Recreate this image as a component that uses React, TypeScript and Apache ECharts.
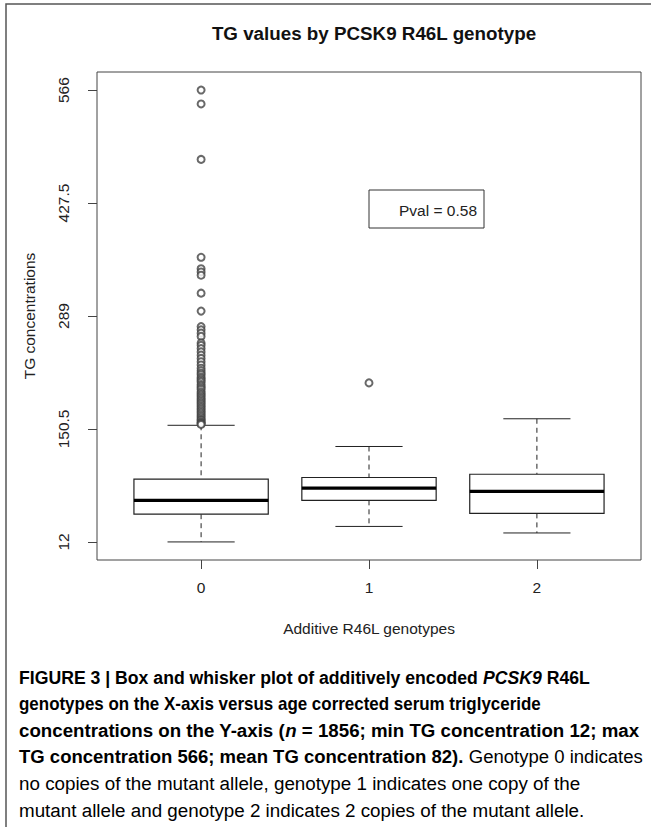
import React, { useEffect, useRef } from "react";
import * as echarts from "echarts";

// ---- data ----
const categories = ["0", "1", "2"];
const xPositions = [0, 1, 2];
// [lower whisker, Q1, median, Q3, upper whisker]
const boxStats = [
  [12, 46, 63, 89, 155],
  [31, 63, 78, 91, 129],
  [23, 47, 74, 95, 163],
];
const outliers0 = [
  566, 549, 481, 361, 347, 343, 339, 317, 295, 276, 272, 268, 264, 256, 253,
  249, 245, 241, 237, 233, 229, 225, 222, 219, 217, 214, 212, 210, 208, 205,
  203, 201, 199, 196, 194, 192, 190, 188, 186, 184, 182, 180, 178, 176, 174,
  172, 170, 168, 166, 164, 162, 161, 159, 158, 157, 156,
];
const outliers1 = [207];
const outliers2: number[] = [];
const yTicks = [12, 150.5, 289, 427.5, 566];
const yMin = -10.16;
const yMax = 588.16;
const titleText = "TG values by PCSK9 R46L genotype";
const yName = "TG concentrations";
const xName = "Additive R46L genotypes";
const pvalText = "Pval = 0.58";

const FONT = "'Liberation Sans', Arial, sans-serif";
const CAP_FONT = "'Liberation Sans', Arial, sans-serif";
const CAP_SIZE = 19;
// horizontal condensing per caption line (reference uses a condensed face)
const capScales = [0.929, 0.892, 0.985, 0.975, 0.99, 0.99];

export default function App() {
  const ref = useRef<HTMLDivElement>(null);
  useEffect(() => {
    if (!ref.current) return;
    const chart = echarts.init(ref.current, null, { renderer: "svg" });

    const boxData = xPositions.map((x, i) => [x, ...boxStats[i]]);
    const outlierData = [
      ...outliers0.map((v) => [0, v]),
      ...outliers1.map((v) => [1, v]),
      ...outliers2.map((v) => [2, v]),
    ];

    const capRich = {
      b: { fontFamily: CAP_FONT, fontWeight: "bold", fontSize: CAP_SIZE, color: "#111" },
      bi: { fontFamily: CAP_FONT, fontWeight: "bold", fontStyle: "italic", fontSize: CAP_SIZE, color: "#111" },
      r: { fontFamily: CAP_FONT, fontSize: CAP_SIZE, color: "#333" },
    };
    const capLines = [
      "{b|FIGURE 3 | Box and whisker plot of additively encoded }{bi|PCSK9}{b| R46L}",
      "{b|genotypes on the X-axis versus age corrected serum triglyceride}",
      "{b|concentrations on the Y-axis (}{bi|n}{b| = 1856; min TG concentration 12; max}",
      "{b|TG concentration 566; mean TG concentration 82).}{r| Genotype 0 indicates}",
      "{r|no copies of the mutant allele, genotype 1 indicates one copy of the}",
      "{r|mutant allele and genotype 2 indicates 2 copies of the mutant allele.}",
    ];

    const stroke = "#222";

    chart.setOption({
      animation: false,
      backgroundColor: "#fff",
      title: {
        text: titleText,
        left: 369,
        top: 19,
        textAlign: "center",
        textStyle: { fontFamily: FONT, fontWeight: "bold", fontSize: 18.8, color: "#111" },
      },
      grid: {
        left: 97,
        right: 10,
        top: 72,
        bottom: 267,
        show: true,
        borderColor: "#444",
        borderWidth: 1,
      },
      xAxis: {
        type: "value",
        min: -0.62,
        max: 2.62,
        name: xName,
        nameLocation: "middle",
        nameGap: 60,
        nameTextStyle: { fontFamily: FONT, fontSize: 15.5, color: "#222" },
        axisLine: { show: false, onZero: false },
        splitLine: { show: false },
        axisTick: { show: true, length: 9, customValues: xPositions, lineStyle: { color: "#444" } },
        axisLabel: {
          customValues: xPositions,
          margin: 19,
          fontFamily: FONT,
          fontSize: 15.5,
          color: "#222",
          formatter: (v: number) => categories[Math.round(v)],
        },
      },
      yAxis: {
        type: "value",
        min: yMin,
        max: yMax,
        name: yName,
        nameLocation: "middle",
        nameRotate: 90,
        nameGap: 60,
        nameTextStyle: { fontFamily: FONT, fontSize: 15.5, color: "#222" },
        axisLine: { show: false, onZero: false },
        splitLine: { show: false },
        axisTick: { show: true, length: 9, customValues: yTicks, lineStyle: { color: "#444" } },
        axisLabel: {
          customValues: yTicks,
          rotate: 90,
          margin: 26,
          fontFamily: FONT,
          fontSize: 15.5,
          color: "#222",
          formatter: (v: number) => String(v),
        },
      },
      series: [
        {
          type: "custom",
          data: boxData,
          encode: { x: 0, y: [1, 2, 3, 4, 5] },
          renderItem: (params: any, api: any) => {
            const x = api.value(0);
            const lo = api.value(1);
            const q1 = api.value(2);
            const med = api.value(3);
            const q3 = api.value(4);
            const hi = api.value(5);
            const half = 0.4;
            const capHalf = 0.2;
            const tl = api.coord([x - half, q3]);
            const br = api.coord([x + half, q1]);
            const c = api.coord([x, med]);
            const yHi = api.coord([x, hi])[1];
            const yLo = api.coord([x, lo])[1];
            const capL = api.coord([x - capHalf, hi])[0];
            const capR = api.coord([x + capHalf, hi])[0];
            const ls = { stroke, lineWidth: 1, fill: "none" };
            return {
              type: "group",
              children: [
                { type: "line", shape: { x1: c[0], y1: yHi, x2: c[0], y2: tl[1] }, style: { ...ls, lineDash: [5, 4] } },
                { type: "line", shape: { x1: c[0], y1: br[1], x2: c[0], y2: yLo }, style: { ...ls, lineDash: [5, 4] } },
                { type: "line", shape: { x1: capL, y1: yHi, x2: capR, y2: yHi }, style: ls },
                { type: "line", shape: { x1: capL, y1: yLo, x2: capR, y2: yLo }, style: ls },
                {
                  type: "rect",
                  shape: { x: tl[0], y: tl[1], width: br[0] - tl[0], height: br[1] - tl[1] },
                  style: { fill: "#fff", stroke, lineWidth: 1.2 },
                },
                { type: "line", shape: { x1: tl[0], y1: c[1], x2: br[0], y2: c[1] }, style: { stroke: "#000", lineWidth: 3.2 } },
              ],
            };
          },
          z: 2,
        },
        {
          type: "scatter",
          data: outlierData,
          symbol: "emptyCircle",
          symbolSize: 7,
          itemStyle: { color: "#444", borderColor: "#444", borderWidth: 0.9 },
          z: 3,
        },
      ],
      graphic: [
        {
          type: "rect",
          shape: { x: 6, y: 4, width: 700, height: 900 },
          style: { fill: "none", stroke: "#555", lineWidth: 1.5 },
          silent: true,
        },
        {
          type: "rect",
          shape: { x: 369, y: 190, width: 115, height: 38 },
          style: { fill: "#fff", stroke: "#333", lineWidth: 1 },
          z: 10,
        },
        {
          type: "text",
          x: 477,
          y: 210,
          z: 11,
          style: {
            text: pvalText,
            fontFamily: FONT,
            fontSize: 15.5,
            fill: "#222",
            align: "right",
            verticalAlign: "middle",
          },
        },
        ...capLines.map((t, i) => ({
          type: "text",
          x: 19,
          y: 677 + i * 26.6,
          scaleX: capScales[i],
          style: {
            text: t,
            rich: capRich,
            verticalAlign: "middle",
            align: "left",
          },
        })),
      ],
    });
    return () => chart.dispose();
  }, []);
  return (
    <div
      ref={ref}
      style={{ position: "absolute", left: 0, top: 0, width: 651, height: 827, background: "#fff" }}
    />
  );
}
